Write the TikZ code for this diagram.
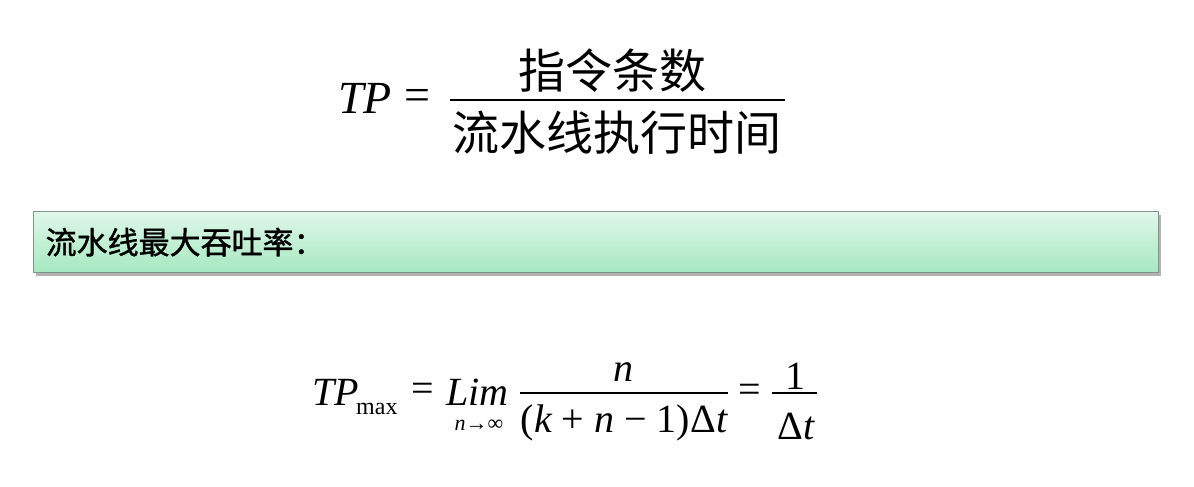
\documentclass[tikz,border=0pt]{standalone}
\usepackage{fontspec}
\setmainfont{Liberation Serif}
\newfontfamily\cjk{Noto Sans CJK SC}
\newfontfamily\cjkbold[FakeBold=1.2]{Noto Sans CJK SC}
\usepackage{tikz}
\usetikzlibrary{shadows}
\tikzstyle{every node}=[inner sep=0pt,text=black]
\tikzstyle{big}=[font=\fontsize{46}{50}\selectfont]
\tikzstyle{cjkbig}=[font=\cjk\fontsize{47}{50}\selectfont]
\tikzstyle{mid}=[font=\fontsize{40}{46}\selectfont]
\tikzstyle{small}=[font=\fontsize{24}{28}\selectfont]
\tikzstyle{tiny}=[font=\fontsize{22}{26}\selectfont]
\tikzstyle{fracbar}=[line width=2.2pt]
\definecolor{bantop}{RGB}{224,247,234}
\definecolor{banbot}{RGB}{166,232,192}
\definecolor{banline}{RGB}{125,150,135}
\tikzstyle{banner}=[draw=banline,line width=1.2pt,top color=bantop,bottom color=banbot,
  drop shadow={shadow xshift=2pt,shadow yshift=-3pt,fill=black,opacity=0.3},
  minimum width=1125pt,minimum height=61pt,text width=1101pt,inner xsep=12pt,align=left,
  font=\cjkbold\fontsize{31}{36}\selectfont]

\begin{document}
\begin{tikzpicture}[x=1pt,y=-1pt]
  \useasboundingbox (0,0) rectangle (1194,487);
  \node (tp) [big,anchor=base west] at (338,113) {\itshape TP};
  \node (eq) [big] at (417,100) {=};
  \node (instr) [cjkbig] at (612,71) {指令条数};
  \node (time) [cjkbig] at (617,133) {流水线执行时间};
  \draw[fracbar] (450,100) -- (785,100);

  \node (title) [banner,anchor=north west] at (33,211) {流水线最大吞吐率：};

  \node (tpmax) [mid,anchor=base west] at (312,405) {\itshape TP};
  \node (max) [small,anchor=base west] at (356,414) {max};
  \node (eqa) [mid] at (423,392) {=};
  \node (lim) [mid,anchor=base west] at (446,405) {\itshape Lim};
  \node (limsub) [tiny] at (479,425) {\itshape n\upshape→∞};
  \node (n) [mid] at (623,372) {\itshape n};
  \draw[fracbar] (520,393) -- (728,393);
  \node (den) [mid] at (624,423) {(\itshape k \upshape+ \itshape n \upshape− 1)Δ\itshape t};
  \node (eqb) [mid] at (750,393) {=};
  \node (one) [mid] at (795,376) {1};
  \draw[fracbar] (772,393) -- (817,393);
  \node (dt) [mid] at (796,426) {Δ\itshape t};
\end{tikzpicture}
\end{document}
